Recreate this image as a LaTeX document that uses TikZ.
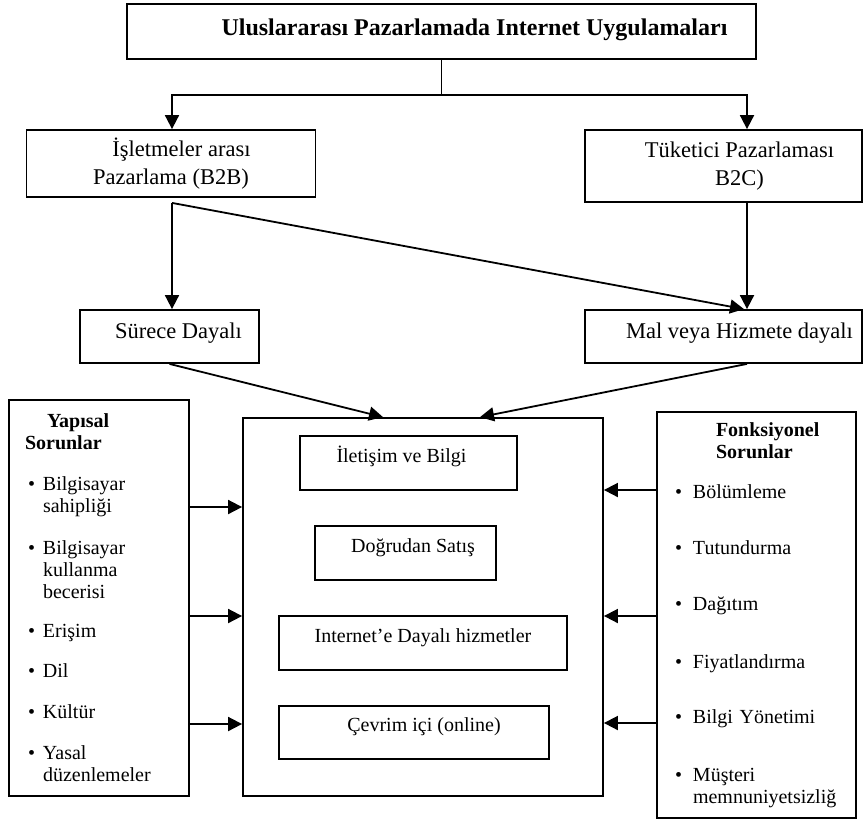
\documentclass[tikz,border=0pt]{standalone}
\usepackage{fontspec}
\setmainfont{Liberation Serif}
\usepackage{tikz}
\usetikzlibrary{arrows.meta,positioning}

\newcommand{\itembul}{\hspace*{3pt}\makebox[15pt][l]{\textbullet}}
\newcommand{\itemind}{\hspace*{18pt}}
\newcommand{\fonkbul}{\makebox[18pt][l]{\textbullet}}

\begin{document}
\begin{tikzpicture}[
    x=1pt, y=-1pt,
    plainbox/.style={draw, line width=1.8pt, align=center, inner sep=0pt, font=\fontsize{20}{22}\selectfont},
    levelbox/.style={plainbox, font=\fontsize{22.5}{28}\selectfont},
    innerbox/.style={plainbox, minimum height=54pt, text height=14pt, text depth=16pt},
    sidebox/.style={plainbox, align=left},
    arrow/.style={-{Triangle[length=14pt,width=14pt]}, line width=1.8pt}
]
\useasboundingbox (0,0) rectangle (864,823);

% Top levels
\node[plainbox, minimum width=629pt, minimum height=55pt, text height=16pt, text depth=9pt, font=\fontsize{24}{26}\selectfont\bfseries] (top) at (441.5,31.5) {\hspace*{66pt}Uluslararası Pazarlamada Internet Uygulamaları};
\node[levelbox, minimum width=289pt, minimum height=67pt] (b2b) at (171,163.5) {\hspace*{21pt}İşletmeler arası\\Pazarlama (B2B)};
\node[levelbox, minimum width=277pt, minimum height=72pt] (b2c) at (723.5,166) {\hspace*{32pt}Tüketici Pazarlaması\\\hspace*{32pt}B2C)};
\node[levelbox, minimum width=179pt, minimum height=53pt, text height=16pt, text depth=13pt] (surece) at (169.5,336.5) {\hspace*{18pt}Sürece Dayalı};
\node[levelbox, minimum width=277pt, minimum height=53pt, text height=16pt, text depth=13pt] (mal) at (723.5,336.5) {\hspace*{32pt}Mal veya Hizmete dayalı};

% Middle box
\node[plainbox, minimum width=360pt, minimum height=378pt] (mid) at (423,607) {};
\node[innerbox, minimum width=217pt] (iletisim) at (408.5,463) {İletişim ve Bilgi\hspace*{14pt}};
\node[innerbox, minimum width=181pt] (dogrudan) at (405.5,553) {\hspace*{15pt}Doğrudan Satış};
\node[innerbox, minimum width=288pt] (internet) at (423,643) {Internet’e Dayalı hizmetler};
\node[innerbox, minimum width=270pt, minimum height=53pt] (cevrim) at (414,732.5) {\hspace*{20pt}Çevrim içi (online)};

% Problems
\node[sidebox, minimum width=180pt, minimum height=396pt, text width=148pt] (yap) at (99,598) {%
  \hspace*{22pt}\textbf{Yapısal}\\
  \textbf{Sorunlar}\\[19pt]
  \itembul Bilgisayar\\ \itemind sahipliği\\[20pt]
  \itembul Bilgisayar\\ \itemind kullanma\\ \itemind becerisi\\[17pt]
  \itembul Erişim\\[18pt]
  \itembul Dil\\[19pt]
  \itembul Kültür\\[19pt]
  \itembul Yasal\\ \itemind düzenlemeler};
\node[sidebox, minimum width=199pt, minimum height=406pt, text width=163pt] (fonk) at (756.5,615) {%
  \hspace*{41pt}\textbf{Fonksiyonel}\\
  \hspace*{41pt}\textbf{Sorunlar}\\[18pt]
  \fonkbul Bölümleme\\[34pt]
  \fonkbul Tutundurma\\[34pt]
  \fonkbul Dağıtım\\[36pt]
  \fonkbul Fiyatlandırma\\[33pt]
  \fonkbul Bilgi Yönetimi\\[36pt]
  \fonkbul Müşteri\\ \hspace*{18pt}memnuniyetsizliğ};

% Arrows
\draw[line width=1.8pt] (top.south) -- ++(0,35) coordinate (split);
\draw[arrow] (split) -| ([xshift=1pt]b2b.north);
\draw[arrow] (split) -| ([xshift=23.5pt]b2c.north);
\coordinate (b2bout) at ([xshift=1pt,yshift=-5pt]b2b.south);
\draw[arrow] (b2bout) -- (b2bout |- surece.north);
\draw[arrow] (b2bout) -- ([xshift=20.5pt]mal.north);
\draw[arrow] ([xshift=23.5pt]b2c.south) -- ([xshift=23.5pt]mal.north);
\draw[arrow] (surece.south) -- ([xshift=-40pt]mid.north);
\draw[arrow] ([xshift=23.5pt]mal.south) -- ([xshift=57pt]mid.north);
\foreach \y in {507,616,724}
  \draw[arrow] (yap.east |- 0,\y) -- (mid.west |- 0,\y);
\foreach \y in {490,616,723}
  \draw[arrow] (fonk.west |- 0,\y) -- (mid.east |- 0,\y);

\end{tikzpicture}
\end{document}
